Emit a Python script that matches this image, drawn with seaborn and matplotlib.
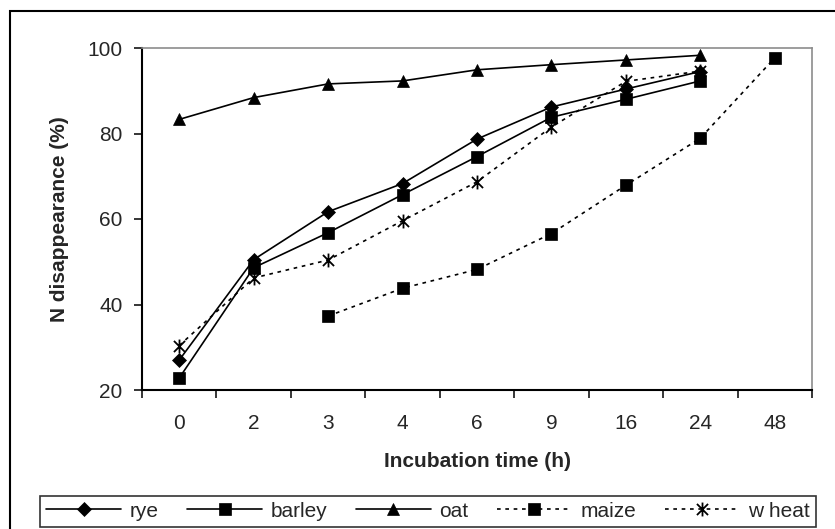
import numpy as np
import pandas as pd
import matplotlib
matplotlib.use("Agg")
import matplotlib.pyplot as plt
from matplotlib.path import Path
from matplotlib.patches import Rectangle
import seaborn as sns

times = ["0", "2", "3", "4", "6", "9", "16", "24", "48"]
rye = [27.0, 50.5, 61.7, 68.3, 78.7, 86.2, 90.4, 94.5]
barley = [22.8, 48.6, 56.8, 65.7, 74.6, 83.8, 88.0, 92.3]
oat = [83.3, 88.4, 91.6, 92.3, 94.9, 96.1, 97.2, 98.3]
maize_times = ["3", "4", "6", "9", "16", "24", "48"]
maize = [37.3, 43.8, 48.2, 56.6, 67.9, 78.9, 97.7]
wheat = [30.4, 46.2, 50.4, 59.6, 68.7, 81.5, 92.2, 94.6]

sns.set_style("ticks")
plt.rcParams["font.family"] = ["Liberation Sans", "DejaVu Sans"]

fig = plt.figure(figsize=(8.35, 5.29), dpi=100)
ax = fig.add_axes([142/835, 1-390/529, (812-142)/835, (390-48)/529])

# asterisk marker: vertical + two diagonals
ast = Path([(0, -1), (0, 1), (-0.8, -0.8), (0.8, 0.8), (-0.8, 0.8), (0.8, -0.8)],
           [Path.MOVETO, Path.LINETO, Path.MOVETO, Path.LINETO, Path.MOVETO, Path.LINETO])

series = [
    ("rye", times[:8], rye, "D", "-", 7.5),
    ("barley", times[:8], barley, "s", "-", 8),
    ("oat", times[:8], oat, "^", "-", 9),
    ("maize", maize_times, maize, "s", (0, (2.2, 2.8)), 8),
    ("w heat", times[:8], wheat, ast, (0, (2.2, 2.8)), 10),
]

# register category order first
ax.plot(times, [np.nan]*len(times))

for name, xs, ys, mk, ls, ms in series:
    df = pd.DataFrame({"t": xs, "v": ys})
    sns.lineplot(data=df, x="t", y="v", ax=ax, sort=False, color="black",
                 marker=mk, markersize=ms, linestyle=ls, linewidth=1.2,
                 markeredgecolor="black", markeredgewidth=1.3 if mk is ast else 0.5,
                 markerfacecolor="black", label=name, legend=False)

ax.set_xlim(-0.5, 8.5)
ax.set_ylim(20, 100)
ax.set_yticks([20, 40, 60, 80, 100])
ax.set_xticks(range(9))
ax.set_xticklabels(times)
ax.set_xticks(np.arange(-0.5, 9, 1), minor=True)
ax.tick_params(axis="x", which="major", length=0, pad=17, labelsize=15)
ax.tick_params(axis="x", which="minor", length=6, width=1.3, direction="out")
ax.tick_params(axis="y", length=6, width=1.3, pad=8, labelsize=15)

for s in ["left", "bottom"]:
    ax.spines[s].set_color("black")
    ax.spines[s].set_linewidth(1.5)
for s in ["top", "right"]:
    ax.spines[s].set_visible(True)
    ax.spines[s].set_color("#8c8c8c")
    ax.spines[s].set_linewidth(1.2)

ax.set_xlabel("Incubation time (h)", fontsize=15, fontweight="bold", labelpad=14)
ax.set_ylabel("N disappearance (%)", fontsize=15, fontweight="bold", labelpad=13)

handles, labels = ax.get_legend_handles_labels()
handles = [h for h, l in zip(handles, labels) if not l.startswith("_")]
labels = [l for l in labels if not l.startswith("_")]
leg = fig.legend(handles, labels, loc="lower left", ncol=5, mode="expand",
                 bbox_to_anchor=(40/835, 2/529, 776/835, 37/529),
                 frameon=True, fancybox=False, edgecolor="black",
                 fontsize=15, handlelength=3.6, handletextpad=0.4,
                 borderpad=0.3, columnspacing=1.0, borderaxespad=0)
leg.get_frame().set_linewidth(1.2)

fig.patches.append(Rectangle((10/835, -0.05), 2.0, 1-11/529+0.05, transform=fig.transFigure,
                             fill=False, edgecolor="black", linewidth=1.5))

fig.savefig("out.png", dpi=100)
